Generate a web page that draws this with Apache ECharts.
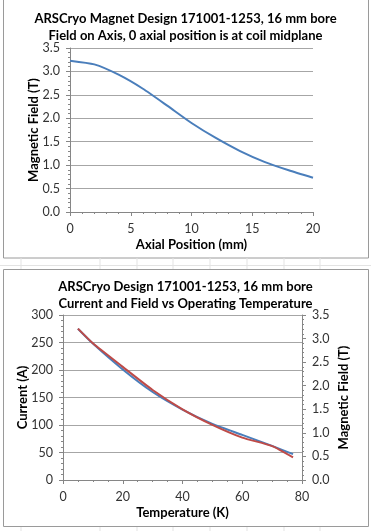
<!DOCTYPE html>
<html><head><meta charset="utf-8">
<script src="https://cdn.jsdelivr.net/npm/echarts@6/dist/echarts.min.js"></script>
<style>html,body{margin:0;padding:0;background:#fff}#c{width:371px;height:531px}</style>
</head><body><div id="c"></div>
<script>
// Top chart: field on axis
const axialPos = [0, 2, 4, 6, 8, 10, 12, 14, 16, 18, 20];
const axialField = [3.23, 3.15, 2.93, 2.63, 2.27, 1.90, 1.58, 1.30, 1.07, 0.89, 0.73];
// Bottom chart: current and field vs temperature
const temps = [5, 10, 20, 30, 40, 50, 60, 70, 77];
const current = [275, 248, 201, 160, 128, 102, 82, 62, 47];
const tempField = [3.21, 2.90, 2.40, 1.91, 1.50, 1.17, 0.90, 0.72, 0.48];

const title1a = 'ARSCryo Magnet Design 171001-1253, 16 mm bore';
const title1b = 'Field on Axis, 0 axial position is at coil midplane';
const title2a = 'ARSCryo Design 171001-1253, 16 mm bore';
const title2b = 'Current and Field vs Operating Temperature';

const FONT = 'Lato';
const axisGray = '#868686';
const gridGray = '#a6a6a6';
const labelStyle = {color: '#333', fontSize: 12.5, fontFamily: FONT, margin: 10};
const nameStyle = {color: '#000', fontSize: 13, fontWeight: 'bold', fontFamily: FONT};

function valAxis(extra) {
  return Object.assign({
    type: 'value',
    axisLine: {show: true, lineStyle: {color: axisGray}},
    axisTick: {show: true, length: 4, lineStyle: {color: axisGray}},
    minorTick: {show: true, length: 2, lineStyle: {color: axisGray}},
    axisLabel: labelStyle,
    nameTextStyle: nameStyle,
    nameLocation: 'middle',
    nameMoveOverlap: false,
    splitLine: {show: false}
  }, extra);
}

// spreadsheet cell lines
const cellX = [21, 100, 137, 173, 210, 247, 284, 320];
const bg = [];
cellX.forEach(x => bg.push({type: 'line', shape: {x1: x, y1: 258, x2: x, y2: 269}, style: {stroke: '#e3e3e3', lineWidth: 1}, silent: true}));
cellX.forEach(x => bg.push({type: 'line', shape: {x1: x, y1: 527, x2: x, y2: 531}, style: {stroke: '#e3e3e3', lineWidth: 1}, silent: true}));
bg.push({type: 'line', shape: {x1: 0, y1: 265.5, x2: 371, y2: 265.5}, style: {stroke: '#e3e3e3', lineWidth: 1}, silent: true});
bg.push({type: 'rect', shape: {x: 3.5, y: -2, width: 365, height: 260}, style: {fill: 'none', stroke: '#9a9a9a', lineWidth: 1}, silent: true, z: -1});
bg.push({type: 'rect', shape: {x: 3.5, y: 269.5, width: 365, height: 257}, style: {fill: 'none', stroke: '#9a9a9a', lineWidth: 1}, silent: true, z: -1});

const chart = echarts.init(document.getElementById('c'));
chart.setOption({
  animation: false,
  backgroundColor: '#fff',
  graphic: bg,
  title: [
    {text: title1a + '\n' + title1b, left: 'center', top: 5,
     textStyle: {fontFamily: FONT, fontSize: 13, fontWeight: 'bold', color: '#000', lineHeight: 17}},
    {text: title2a + '\n' + title2b, left: 'center', top: 273,
     textStyle: {fontFamily: FONT, fontSize: 13, fontWeight: 'bold', color: '#000', lineHeight: 17}}
  ],
  grid: [
    {left: 70, top: 48, width: 243, height: 164},
    {left: 63, top: 315, width: 239, height: 165}
  ],
  xAxis: [
    valAxis({gridIndex: 0, min: 0, max: 20, interval: 5, minorTick: {show: true, splitNumber: 5, length: 2, lineStyle: {color: axisGray}},
      name: 'Axial Position (mm)', nameGap: 26}),
    valAxis({gridIndex: 1, min: 0, max: 80, interval: 20, minorTick: {show: true, splitNumber: 4, length: 2, lineStyle: {color: axisGray}},
      name: 'Temperature (K)', nameGap: 26})
  ],
  yAxis: [
    valAxis({gridIndex: 0, min: 0, max: 3.5, interval: 0.5, minorTick: {show: true, splitNumber: 5, length: 2, lineStyle: {color: axisGray}},
      axisLabel: Object.assign({}, labelStyle, {formatter: v => v.toFixed(1)}),
      splitLine: {show: true, lineStyle: {color: gridGray}},
      name: 'Magnetic Field (T)', nameGap: 30}),
    valAxis({gridIndex: 1, min: 0, max: 300, interval: 50, minorTick: {show: true, splitNumber: 5, length: 2, lineStyle: {color: axisGray}},
      splitLine: {show: true, lineStyle: {color: gridGray}},
      name: 'Current (A)', nameGap: 34}),
    valAxis({gridIndex: 1, position: 'right', min: 0, max: 3.5, interval: 0.5, minorTick: {show: true, splitNumber: 5, length: 2, lineStyle: {color: axisGray}},
      axisLabel: Object.assign({}, labelStyle, {formatter: v => v.toFixed(1)}),
      name: 'Magnetic Field (T)', nameGap: 35, nameRotate: 90})
  ],
  series: [
    {type: 'line', xAxisIndex: 0, yAxisIndex: 0, data: axialPos.map((x, i) => [x, axialField[i]]),
     showSymbol: false, smooth: 0.2, lineStyle: {color: '#4a7ebb', width: 2}},
    {type: 'line', xAxisIndex: 1, yAxisIndex: 1, data: temps.map((x, i) => [x, current[i]]),
     showSymbol: false, smooth: 0.2, lineStyle: {color: '#4a7ebb', width: 2}},
    {type: 'line', xAxisIndex: 1, yAxisIndex: 2, data: temps.map((x, i) => [x, tempField[i]]),
     showSymbol: false, smooth: 0.2, lineStyle: {color: '#be4b48', width: 2}}
  ]
});
</script></body></html>
